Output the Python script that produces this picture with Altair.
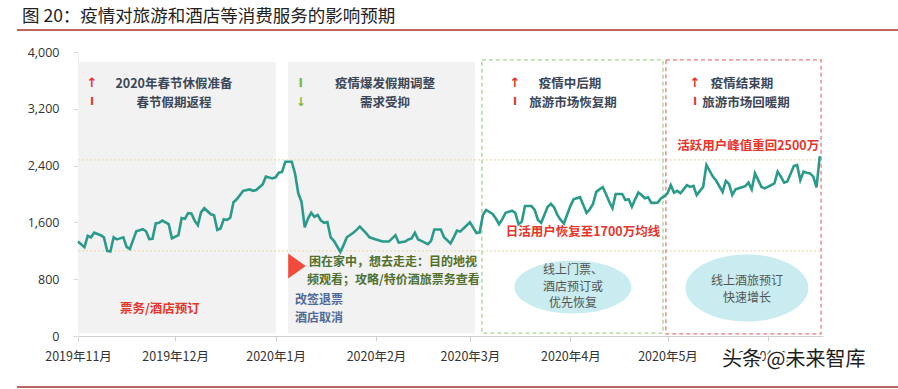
import altair as alt
import pandas as pd

# ---------------- data ----------------
START = pd.Timestamp("2019-11-01")

line_days = [0, 2, 3, 4, 5, 7, 8, 9, 10, 11, 12, 13, 14, 15, 16, 17, 18, 20, 21, 22, 23, 24, 25, 26, 28, 29,
             31, 32, 33, 34, 35, 36, 37, 38, 39, 41, 42, 43, 44, 45, 46, 47, 48, 49, 51, 53, 54, 55, 57, 58,
             60, 61, 62, 63, 64, 66, 67, 68, 69, 70, 71, 72, 73, 74, 75, 76, 77, 78, 79, 81, 82, 83, 85, 86,
             87, 89, 90, 92, 94, 96, 98, 99, 101, 102, 103, 104, 105, 106, 108, 109, 110, 112, 113, 115, 116,
             117, 118, 119, 121, 123, 124, 125, 126, 128, 129, 130, 131, 132, 134, 135, 136, 137, 138, 140,
             141, 142, 143, 145, 146, 147, 148, 149, 150, 152, 153, 155, 156, 157, 158, 159, 160, 161, 162,
             163, 164, 165, 166, 168, 169, 170, 171, 172, 173, 174, 175, 176, 177, 178, 179, 180, 181, 182,
             183, 184, 185, 186, 188, 189, 190, 191, 193, 194, 196, 197, 199, 200, 201, 202, 203, 204, 206,
             207, 208, 209, 211, 212, 214, 215, 216, 217, 218, 219, 221, 222, 223, 224, 225, 226, 227, 228, 229]
line_values = [1330, 1250, 1410, 1390, 1455, 1420, 1390, 1200, 1190, 1390, 1360, 1375, 1390, 1255, 1225, 1350,
               1475, 1505, 1475, 1365, 1370, 1585, 1595, 1625, 1575, 1375,
               1420, 1660, 1650, 1730, 1725, 1625, 1560, 1745, 1800, 1715, 1700, 1495, 1515, 1645, 1635, 1665,
               1885, 1925, 2045, 2065, 2045, 2055, 2135, 2245,
               2220, 2235, 2300, 2310, 2455, 2455, 2290, 2010, 1890, 1530, 1655, 1735, 1680, 1705, 1625, 1595,
               1605, 1390, 1340, 1185, 1280, 1390, 1455, 1495,
               1540, 1445, 1390, 1360, 1330, 1330, 1420, 1315, 1330, 1360, 1375, 1455, 1360, 1340, 1295, 1340,
               1500, 1500, 1390, 1305, 1390,
               1485, 1470, 1515, 1600, 1450, 1460, 1705, 1775, 1720, 1655, 1575, 1645, 1735, 1765, 1735, 1575,
               1610, 1830, 1830,
               1775, 1635, 1595, 1820, 1860, 1810, 1705, 1635, 1585, 1830, 1925, 1955, 1845, 1735, 1785, 1860,
               2030, 2065, 2095,
               2000, 1890, 1800, 2000, 2000, 1915, 1925, 1820, 1925, 2020, 1985, 1940, 1955, 1875, 1875, 1880,
               1940, 1965, 2010,
               2125, 2020, 2045, 2010, 2125, 2100, 2115, 1985, 2100, 2410, 2245, 2190, 2030, 2185, 2140, 1985,
               2065, 2080, 2110,
               2160, 2065, 2290, 2100, 2080, 2125, 2150, 2315, 2245, 2160, 2175, 2395, 2410, 2195, 2315, 2300,
               2290, 2245, 2095, 2535]

y_ticks = [0, 800, 1600, 2400, 3200, 4000]
month_ticks = [(2019, 11), (2019, 12), (2020, 1), (2020, 2), (2020, 3), (2020, 4), (2020, 5), (2020, 6)]

# shaded periods (start day, end day, bottom, top)
grey_start = [0, 64.8]
grey_end = [61.1, 122.6]
grey_bottom = [40, 40]
grey_top = [3860, 3860]

box_start = [124.7, 181.5]
box_end = [180.6, 229.4]
box_bottom = [40, 30]
box_top = [3890, 3890]
box_colors = ["#a9d18e", "#e87a7a"]

ref_values = [2480, 1200]

title_text = "图 20：疫情对旅游和酒店等消费服务的影响预期"
watermark_text = "头条 @未来智库"


def to_dates(days):
    return [START + pd.to_timedelta(d, unit="D") for d in days]


# ---------------- encodings ----------------
def xenc(field="date"):
    return alt.X(f"{field}:T",
                 scale=alt.Scale(domain=[alt.DateTime(year=2019, month=11, date=1),
                                         alt.DateTime(year=2020, month=6, date=18)]),
                 axis=alt.Axis(values=[alt.DateTime(year=y, month=m, date=1) for y, m in month_ticks],
                               format="%Y年%-m月", labelFont="Noto Sans CJK SC", labelFontSize=12.5,
                               labelColor="#333333", tickColor="#d0d0d0", domainColor="#d0d0d0",
                               tickSize=5, labelPadding=9, title=None, grid=False, labelFlush=False))


def yenc(field="value"):
    return alt.Y(f"{field}:Q",
                 scale=alt.Scale(domain=[0, 4000], nice=False),
                 axis=alt.Axis(values=y_ticks, format=",d", labelFont="Open Sans", labelFontSize=12.5,
                               labelColor="#333333", tickColor="#d9d9d9", domainColor="#ececec",
                               tickSize=5, labelPadding=14, title=None, grid=False))


layers = []

# grey shaded regions
grey_df = pd.DataFrame({"date": to_dates(grey_start), "date2": to_dates(grey_end),
                        "value": grey_bottom, "value2": grey_top})
layers.append(alt.Chart(grey_df).mark_rect(color="#f2f2f2").encode(
    x=xenc(), x2="date2:T", y=yenc(), y2="value2:Q"))

# dotted reference lines
ref_df = pd.DataFrame({"date": to_dates([0, 0]), "date2": to_dates([229, 229]), "value": ref_values})
layers.append(alt.Chart(ref_df).mark_rule(color="#ecdcb8", strokeDash=[2, 2], strokeWidth=1.2).encode(
    x=xenc(), x2="date2:T", y=yenc()))

# dashed boxes
for i in range(2):
    bdf = pd.DataFrame({"date": to_dates([box_start[i]]), "date2": to_dates([box_end[i]]),
                        "value": [box_bottom[i]], "value2": [box_top[i]]})
    layers.append(alt.Chart(bdf).mark_rect(fill="#ffffff", fillOpacity=0, stroke=box_colors[i],
                                           strokeDash=[4, 3], strokeWidth=1.3).encode(
        x=xenc(), x2="date2:T", y=yenc(), y2="value2:Q"))

# ellipses
ell_specs = [
    (152.8, 690, 117, "M -1 0 C -1 -0.25 -0.552 -0.453 0 -0.453 C 0.552 -0.453 1 -0.25 1 0 "
                      "C 1 0.25 0.552 0.453 0 0.453 C -0.552 0.453 -1 0.25 -1 0 Z"),
    (206.5, 676, 123, "M -1 0 C -1 -0.301 -0.552 -0.545 0 -0.545 C 0.552 -0.545 1 -0.301 1 0 "
                      "C 1 0.301 0.552 0.545 0 0.545 C -0.552 0.545 -1 0.301 -1 0 Z"),
]
for d, v, w, path in ell_specs:
    edf = pd.DataFrame({"date": to_dates([d]), "value": [v]})
    layers.append(alt.Chart(edf).mark_point(shape=path, size=w * w, filled=True, fill="#c8ecef",
                                            opacity=1, strokeWidth=0).encode(x=xenc(), y=yenc()))

# main line
line_df = pd.DataFrame({"date": to_dates(line_days), "value": line_values})
layers.append(alt.Chart(line_df).mark_line(color="#2a9a8b", strokeWidth=2.6, interpolate="linear").encode(
    x=xenc(), y=yenc()))

# triangle marker
tri_df = pd.DataFrame({"date": to_dates([67.6]), "value": [986]})
layers.append(alt.Chart(tri_df).mark_point(shape="M -0.7 -1 L 0.7 0 L -0.7 1 Z", size=625, filled=True,
                                           fill="#f24b3c", opacity=1, strokeWidth=0).encode(x=xenc(), y=yenc()))


def ann(texts, days, vals, **kw):
    df = pd.DataFrame({"text": texts, "date": to_dates(days), "value": vals})
    return alt.Chart(df).mark_text(baseline="middle", **kw).encode(x=xenc(), y=yenc(), text="text:N")


CJK = "Noto Sans CJK SC"
DARK = "#3b4656"
RED = "#e5362c"

# period headers
layers.append(ann(["2020年春节休假准备", "春节假期返程", "疫情爆发假期调整", "需求受抑",
                   "疫情中后期", "旅游市场恢复期", "疫情结束期", "旅游市场回暖期"],
                  [29.6, 29.6, 94.8, 94.8, 151.9, 152.8, 205.0, 206.2],
                  [3549, 3282, 3549, 3282, 3549, 3282, 3549, 3282],
                  font=CJK, fontSize=12.5, fontWeight="bold", color=DARK, align="center"))

# arrows / bars
layers.append(ann(["↑", "↑", "↑"], [4.3, 134.9, 190.5], [3560, 3560, 3560],
                  font="DejaVu Sans", fontSize=13, fontWeight="bold", color=RED, align="center"))
layers.append(ann(["I", "I", "I"], [4.3, 134.9, 190.5], [3290, 3290, 3290],
                  font="DejaVu Sans", fontSize=11, fontWeight="bold", color=RED, align="center"))
layers.append(ann(["I", "↓"], [68.8, 68.8], [3560, 3300],
                  font="DejaVu Sans", fontSize=12, fontWeight="bold", color="#7ab648", align="center"))

# red highlights
layers.append(ann(["票务/酒店预订"], [25.3], [380],
                  font=CJK, fontSize=12.5, fontWeight="bold", color=RED, align="center"))
layers.append(ann(["日活用户恢复至1700万均线", "活跃用户峰值重回2500万"], [155.9, 206.9], [1465, 2676],
                  font=CJK, fontSize=12.5, fontWeight="bold", color=RED, align="center"))

# green and blue notes
layers.append(ann(["困在家中，想去走走：目的地视", "频观看；攻略/特价酒旅票务查看"], [71.3, 70.7], [1042, 789],
                  font=CJK, fontSize=12, fontWeight="bold", color="#4f6f2c", align="left"))
layers.append(ann(["改签退票", "酒店取消"], [67.0, 67.0], [507, 254],
                  font=CJK, fontSize=12, fontWeight="bold", color="#4d6a99", align="left"))

# ellipse texts
layers.append(ann(["线上门票、", "酒店预订或", "优先恢复", "线上酒旅预订", "快速增长"],
                  [152.8, 152.8, 152.8, 206.5, 206.5], [930, 690, 460, 775, 535],
                  font=CJK, fontSize=12, color="#555555", align="center"))

# title, rules, watermark (decoration outside the plot)
one = pd.DataFrame({"a": [0]})
layers.append(alt.Chart(one).mark_text(align="left", baseline="middle", font=CJK, fontSize=17.5,
                                       color="#222222").encode(
    x=alt.value(-56), y=alt.value(-35), text=alt.value(title_text)))
layers.append(alt.Chart(one).mark_rule(color="#a8322d", strokeWidth=1.5).encode(
    x=alt.value(-61), x2=alt.value(820), y=alt.value(-22)))
layers.append(alt.Chart(one).mark_rule(color="#a8322d", strokeWidth=1.5).encode(
    x=alt.value(-61), x2=alt.value(820), y=alt.value(335)))
layers.append(alt.Chart(one).mark_text(align="left", baseline="middle", font=CJK, fontSize=20,
                                       color="#ffffff", stroke="#ffffff", strokeWidth=4).encode(
    x=alt.value(644), y=alt.value(308), text=alt.value(watermark_text)))
layers.append(alt.Chart(one).mark_text(align="left", baseline="middle", font=CJK, fontSize=20,
                                       color="#1e1e1e").encode(
    x=alt.value(644), y=alt.value(308), text=alt.value(watermark_text)))

chart = alt.layer(*layers).properties(
    width=745, height=284,
    autosize=alt.AutoSizeParams(type="none"),
    padding={"left": 78, "top": 52, "right": 75, "bottom": 53},
    background="white",
).configure_view(stroke=None)

chart.save("out.html", embed_options={"renderer": "svg", "actions": False})
